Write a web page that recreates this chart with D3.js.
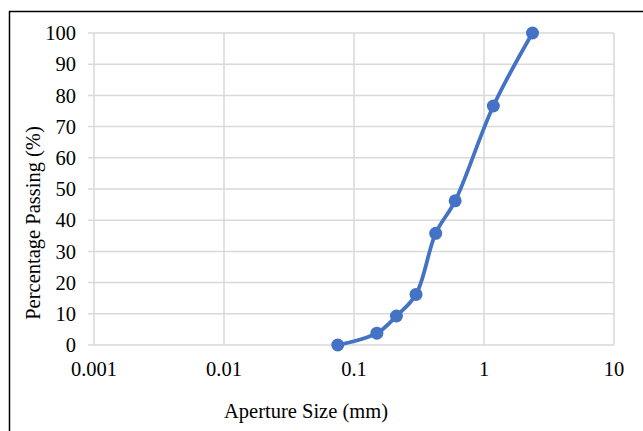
<!DOCTYPE html>
<html>
<head>
<meta charset="utf-8">
<script src="https://cdn.jsdelivr.net/npm/d3@7"></script>
<style>
  body { margin: 0; background: #fff; }
  .chart text { font-family: "Liberation Serif", "Times New Roman", serif; fill: #000; }
</style>
</head>
<body>
<svg class="chart"></svg>
<script>
// sieve sizes (mm) and percentage passing
var aperture = [0.075, 0.15, 0.212, 0.3, 0.425, 0.6, 1.18, 2.36];
var passing = [0, 3.8, 9.3, 16.2, 35.8, 46.2, 76.6, 100];
var xTicks = [0.001, 0.01, 0.1, 1, 10];
var xTickLabels = ["0.001", "0.01", "0.1", "1", "10"];
var yTicks = [0, 10, 20, 30, 40, 50, 60, 70, 80, 90, 100];

var W = 643, H = 431;
var margin = {top: 33, right: 29, bottom: 86, left: 94},
	width = W - margin.left - margin.right,
	height = H - margin.top - margin.bottom;

var svg = d3.select(".chart")
	.attr("width", W)
	.attr("height", H);

// outer frame
svg.append("rect")
	.attr("x", 9.5).attr("y", 11.5)
	.attr("width", W).attr("height", H)
	.attr("fill", "none")
	.attr("stroke", "#000")
	.attr("stroke-width", 1.5);

var chart = svg.append("g")
	.attr("transform", "translate(" + margin.left + "," + margin.top + ")");

var x = d3.scaleLog()
	.domain([0.001, 10])
	.range([0, width]);

var y = d3.scaleLinear()
	.domain([0, 100])
	.range([height, 0]);

// horizontal gridlines with small outward ticks
chart.append("g")
	.selectAll("line")
	.data(yTicks)
  .enter().append("line")
	.attr("x1", -6)
	.attr("x2", width)
	.attr("y1", function(d) { return y(d); })
	.attr("y2", function(d) { return y(d); })
	.attr("stroke", "#d9d9d9")
	.attr("stroke-width", 1.5);

// vertical gridlines
chart.append("g")
	.selectAll("line")
	.data(xTicks)
  .enter().append("line")
	.attr("x1", function(d) { return x(d); })
	.attr("x2", function(d) { return x(d); })
	.attr("y1", 0)
	.attr("y2", height)
	.attr("stroke", "#d9d9d9")
	.attr("stroke-width", 1.5);

// y tick labels
chart.append("g")
	.selectAll("text")
	.data(yTicks)
  .enter().append("text")
	.attr("x", -18)
	.attr("y", function(d) { return y(d); })
	.attr("dy", "0.35em")
	.style("text-anchor", "end")
	.style("font-size", "20.5px")
	.text(function(d) { return d; });

// x tick labels
chart.append("g")
	.selectAll("text")
	.data(xTicks)
  .enter().append("text")
	.attr("x", function(d) { return x(d); })
	.attr("y", height + 31)
	.style("text-anchor", "middle")
	.style("font-size", "20.5px")
	.text(function(d, i) { return xTickLabels[i]; });

// axis titles
svg.append("text")
	.attr("x", 306)
	.attr("y", 418)
	.style("text-anchor", "middle")
	.style("font-size", "20.5px")
	.text("Aperture Size (mm)");

svg.append("text")
	.attr("transform", "translate(40,223) rotate(-90)")
	.style("text-anchor", "middle")
	.style("font-size", "20.5px")
	.text("Percentage Passing (%)");

var pts = aperture.map(function(d, i) { return [d, passing[i]]; });

var line = d3.line()
	.x(function(d) { return x(d[0]); })
	.y(function(d) { return y(d[1]); })
	.curve(d3.curveCatmullRom.alpha(0.5));

chart.append("path")
	.datum(pts)
	.attr("d", line)
	.attr("fill", "none")
	.attr("stroke", "#4472c4")
	.attr("stroke-width", 3.8)
	.attr("stroke-linejoin", "round");

chart.selectAll(".dot")
	.data(pts)
  .enter().append("circle")
	.attr("class", "dot")
	.attr("cx", function(d) { return x(d[0]); })
	.attr("cy", function(d) { return y(d[1]); })
	.attr("r", 6.5)
	.attr("fill", "#4472c4");
</script>
</body>
</html>
